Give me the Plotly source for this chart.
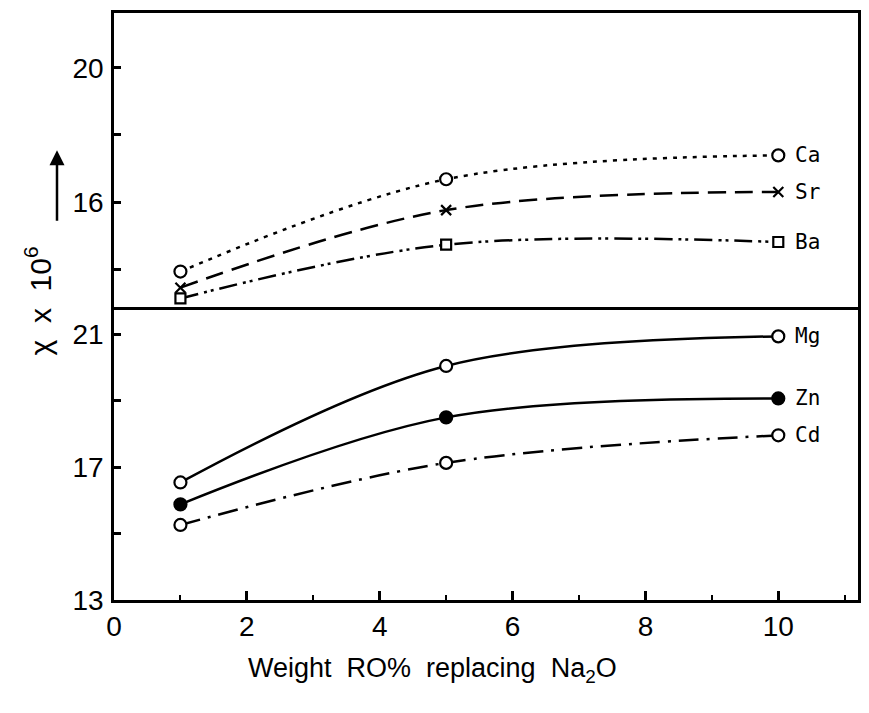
import plotly.graph_objects as go
from plotly.subplots import make_subplots

x_vals = [1, 5, 10]
ca = [13.93, 16.68, 17.39]
sr = [13.45, 15.76, 16.30]
ba = [13.13, 14.73, 14.81]
mg = [16.54, 20.05, 20.94]
zn = [15.88, 18.50, 19.07]
cd = [15.26, 17.13, 17.96]

x_ticks = [0, 2, 4, 6, 8, 10]

FONT = "Liberation Sans"

fig = make_subplots(rows=2, cols=1, shared_xaxes=True, vertical_spacing=0)

white = "white"
def add(name, y, row, dash, symbol, fill, msize=12):
    fig.add_trace(go.Scatter(
        x=x_vals, y=y, mode="lines+markers", name=name,
        line=dict(color="black", width=2.5, dash=dash, shape="spline", smoothing=1.0),
        marker=dict(symbol=symbol, size=msize, color=fill,
                    line=dict(color="black", width=2.2)),
        showlegend=False), row=row, col=1)

add("Ca", ca, 1, "4px,6px", "circle", white)
add("Sr", sr, 1, "18px,9px", "x-thin", "black", 10)
add("Ba", ba, 1, "18px,6px,3px,4px,3px,6px", "square", white, 10)
add("Mg", mg, 2, "solid", "circle", white)
add("Zn", zn, 2, "solid", "circle", "black")
add("Cd", cd, 2, "20px,8px,3px,8px", "circle", white)

labels = [("Ca", ca[-1], "y"), ("Sr", sr[-1], "y"), ("Ba", ba[-1], "y"),
          ("Mg", mg[-1], "y2"), ("Zn", zn[-1], "y2"), ("Cd", cd[-1], "y2")]
for t, yv, yr in labels:
    fig.add_annotation(x=10.22, y=yv, xref="x2", yref=yr, text=t, showarrow=False,
                       xanchor="left", yanchor="middle",
                       font=dict(family="DejaVu Sans Mono", size=21, color="black"))

axis_common = dict(showline=True, linecolor="black", linewidth=2.5,
                   showgrid=False, zeroline=False)

fig.update_xaxes(range=[0, 11.2], **axis_common)
fig.update_xaxes(row=1, col=1, ticks="", showticklabels=False, mirror=True)
fig.update_xaxes(row=2, col=1, mirror=False, tickmode="array", tickvals=x_ticks, ticks="inside",
                 ticklen=9, tickwidth=2.5, tickcolor="black",
                 minor=dict(dtick=1, tick0=0, ticks="inside", ticklen=5, tickwidth=2, tickcolor="black"),
                 tickfont=dict(family=FONT, size=28, color="black"))
fig.update_yaxes(row=1, col=1, range=[12.89, 21.63], tick0=0, dtick=4, mirror=True,
                 ticks="inside", ticklen=7, tickwidth=2.5, tickcolor="black",
                 minor=dict(tick0=0, dtick=2, ticks="inside", ticklen=7, tickwidth=2.5, tickcolor="black"),
                 tickfont=dict(family=FONT, size=28, color="black"), ticklabelstandoff=2,
                 **axis_common)
fig.update_yaxes(row=2, col=1, range=[13, 21.84], tick0=13, dtick=4, mirror=True,
                 ticks="inside", ticklen=7, tickwidth=2.5, tickcolor="black",
                 minor=dict(tick0=13, dtick=2, ticks="inside", ticklen=7, tickwidth=2.5, tickcolor="black"),
                 tickfont=dict(family=FONT, size=28, color="black"), ticklabelstandoff=2,
                 **axis_common)

# page body has an 8px offset; figure is sized so window coords match the reference
OFF = 8
W, H = 861, 705
L, R, T, B = 106, 11, 2, 113
pw, ph = W - L - R, H - T - B

def px(xp):
    return (xp - OFF - L) / pw

def py(yp):
    return (H - B - (yp - OFF)) / ph

fig.add_annotation(x=px(432), y=py(670), xref="paper", yref="paper",
                   text="Weight  RO%  replacing  Na<sub>2</sub>O", showarrow=False,
                   xanchor="center", yanchor="middle",
                   font=dict(family=FONT, size=27, color="black"))
fig.add_annotation(x=px(38), y=py(300), xref="paper", yref="paper",
                   text="χ  x  10<sup>6</sup>", showarrow=False, textangle=-90,
                   xanchor="center", yanchor="middle",
                   font=dict(family=FONT, size=30, color="black"))
fig.add_annotation(x=px(57), y=py(148), xref="paper", yref="paper", text="",
                   showarrow=True, ax=0, ay=72, arrowhead=2, arrowsize=1.2,
                   arrowwidth=2.5, arrowcolor="black")

fig.update_layout(width=W, height=H, margin=dict(l=L, r=R, t=T, b=B),
                  plot_bgcolor="white", paper_bgcolor="white")

fig.write_html("out.html")
